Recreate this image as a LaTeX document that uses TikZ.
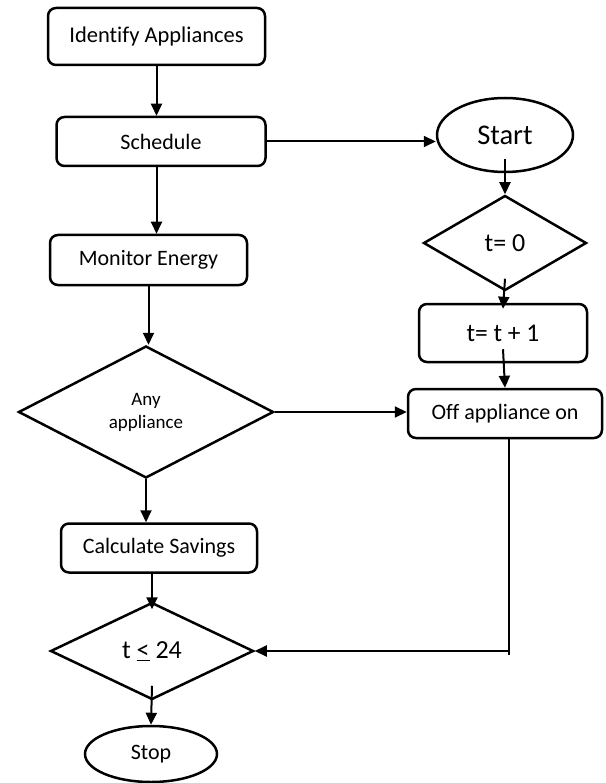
\documentclass[tikz,border=0pt]{standalone}
\usepackage{fontspec}
\setmainfont{Carlito}[Ligatures={NoCommon}]
\usetikzlibrary{shapes.geometric,arrows.meta,calc}
\newcommand{\fs}[1]{\fontsize{#1}{#1}\selectfont}
\tikzset{
  boxnode/.style={draw,line width=2.5pt,rounded corners=8pt,inner sep=0pt,align=center},
  dianode/.style={draw,diamond,line width=2.5pt,inner sep=0pt,align=center},
  ellnode/.style={draw,ellipse,line width=2.5pt,inner sep=0pt,align=center},
  conn/.style={line width=2pt},
  arr/.style={line width=2pt,-{Triangle[length=12pt,width=11pt]}},
}
\begin{document}
\begin{tikzpicture}[x=1pt,y=-1pt]
\useasboundingbox[fill=white] (0,0) rectangle (605,783);
% left column
\node[boxnode,minimum width=217pt,minimum height=57pt,font=\fs{22.5}] (ident) at (156.5,36.5) {Identify Appliances};
\node[boxnode,minimum width=209pt,minimum height=49pt,font=\fs{22}] (sched) at (161,141.5) {Schedule};
\node[boxnode,minimum width=197pt,minimum height=50pt,font=\fs{22}] (monitor) at (148.5,260) {Monitor Energy};
\node[dianode,minimum width=255pt,minimum height=132pt,font=\fontsize{19}{23}\selectfont] (any) at (146,412) {Any\\appliance};
\node[boxnode,minimum width=196pt,minimum height=49pt,font=\fs{22}] (calc) at (159,548) {Calculate Savings};
\node[dianode,minimum width=203pt,minimum height=97pt,font=\fs{26}] (t24) at (152,651) {t \underline{<} 24};
\node[ellnode,minimum width=132pt,minimum height=56pt,font=\fs{22}] (stop) at (151,754) {Stop};
% right column
\node[ellnode,minimum width=136pt,minimum height=74pt,font=\fs{28.5}] (start) at (505,135) {Start};
\node[dianode,minimum width=163pt,minimum height=95pt,font=\fs{26}] (t0) at (505,243) {t= 0};
\node[boxnode,minimum width=168pt,minimum height=58pt,font=\fs{25.5}] (tt1) at (503,333) {t= t + 1};
\node[boxnode,minimum width=194pt,minimum height=49pt,font=\fs{22}] (off) at (505,413.5) {Off appliance on};
% connectors
\draw[arr] (ident.south) -- (ident.south |- sched.north);
\draw[arr] (ident.south |- sched.south) -- (ident.south |- monitor.north);
\draw[arr] (monitor.south) -- (monitor.south |- any.north);
\draw[arr] (any.south) -- (any.south |- calc.north);
\draw[arr] (t24.north |- calc.south) -- ($(t24.north)+(0,8)$);
\draw[arr] ($(t24.south)+(0,-15)$) -- (stop.north);
\draw[arr] (sched.east) -- (sched.east -| start.west);
\draw[arr] ($(start.south)+(0,-14)$) -- (t0.north);
\draw[arr] ($(t0.south)+(0,-13)$) -- ($(tt1.north)+(0,6)$);
\draw[arr] ($(tt1.south)+(0,-14)$) -- (off.north);
\draw[arr] (any.east) -- (any.east -| off.west);
\coordinate (c1) at ($(off.south)+(4,0)$);
\draw[conn] (c1) -- ($(c1 |- t24.east)+(0,4)$);
\draw[arr] (c1 |- t24.east) -- (t24.east);
\end{tikzpicture}
\end{document}
